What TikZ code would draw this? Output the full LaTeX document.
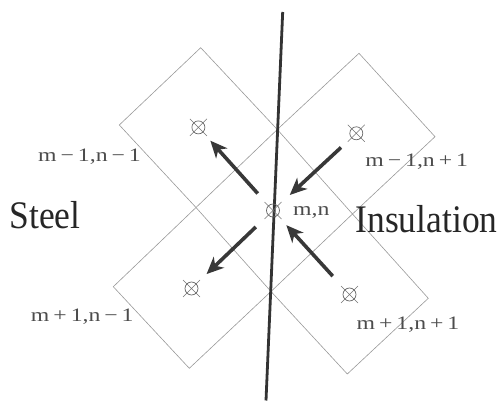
\documentclass[tikz,border=0pt]{standalone}
\usepackage{fontspec}
\setmainfont{Liberation Serif}
\usetikzlibrary{arrows.meta}
\newcommand\glab[1]{\scalebox{1.25}[1]{#1}}
\newcommand\gbig[1]{\scalebox{1}[1.1]{#1}}
\begin{document}
\begin{tikzpicture}[x=1pt,y=-1pt,
  cell/.style={draw=black!40, line width=0.6pt},
  symb/.style={circle, draw=black!60, line width=0.7pt, minimum size=13pt, inner sep=0pt},
  symx/.style={draw=black!55, line width=0.55pt},
  flow/.style={draw=black!78, line width=3.6pt, -{Stealth[length=17pt,width=15pt,inset=5pt]}},
  iface/.style={draw=black!80, line width=2.8pt},
  lab/.style={font=\fontsize{19}{22}\selectfont, text=black!70, inner sep=0pt, anchor=base},
  big/.style={font=\fontsize{35.5}{40}\selectfont, text=black!85, inner sep=0pt, anchor=base}]
\useasboundingbox (0,0) rectangle (501,403);
% grid cells
\coordinate (x1) at (277.3,129.5);
\coordinate (x2) at (271,291.5);
\coordinate (x3) at (196,207.5);
\coordinate (x4) at (352.5,214);
\coordinate (tlT) at (200.7,47.7);
\coordinate (tlL) at (119.3,125);
\coordinate (trT) at (359,53.3);
\coordinate (trR) at (435,136.7);
\coordinate (blB) at (189.3,368.3);
\coordinate (blL) at (113.3,286.7);
\coordinate (brR) at (428.3,298.3);
\coordinate (brB) at (347.3,374);
\draw[cell] (tlT) -- (x1) -- (x3) -- (tlL) -- cycle;
\draw[cell] (trT) -- (trR) -- (x4) -- (x1) -- cycle;
\draw[cell] (x3) -- (x2) -- (blB) -- (blL) -- cycle;
\draw[cell] (x4) -- (brR) -- (brB) -- (x2) -- cycle;
% interface line
\coordinate (ltop) at (282.7,12);
\coordinate (lbot) at (266,400.5);
\draw[iface] (ltop) -- (lbot);
% nodes
\node[symb] (c) at (273,210.5) {};
\node[symb] (tl) at (198.4,127.4) {};
\node[symb] (tr) at (356.3,133.3) {};
\node[symb] (bl) at (191.5,288.5) {};
\node[symb] (br) at (349.5,294.5) {};
\foreach \n in {c,tl,tr,bl,br}
  \draw[symx] ([shift={(-8.5pt,8.5pt)}]\n.center) -- ([shift={(8.5pt,-8.5pt)}]\n.center)
              ([shift={(-8.5pt,-8.5pt)}]\n.center) -- ([shift={(8.5pt,8.5pt)}]\n.center);
% heat flow arrows
\draw[flow, shorten <=16pt, shorten >=11pt] (c) -- (tl);
\draw[flow, shorten <=14pt, shorten >=16pt] (tr) -- (c);
\draw[flow, shorten <=17pt, shorten >=14pt] (c) -- (bl);
\draw[flow, shorten <=18pt, shorten >=13pt] (br) -- (c);
% labels
\node[lab] (ltl) at (89.5,161.7) {\glab{m\,−\,1,n\,−\,1}};
\node[lab] (ltr) at (416.7,166.7) {\glab{m\,−\,1,n\,+\,1}};
\node[lab, anchor=base west] (lc) at (293,216) {\glab{m,n}};
\node[lab] (lbl) at (82.3,322) {\glab{m\,+\,1,n\,−\,1}};
\node[lab] (lbr) at (408,330) {\glab{m\,+\,1,n\,+\,1}};
\node[big] (steel) at (45,229) {\gbig{Steel}};
\node[big] (ins) at (426.5,233) {\gbig{Insulation}};
\end{tikzpicture}
\end{document}
